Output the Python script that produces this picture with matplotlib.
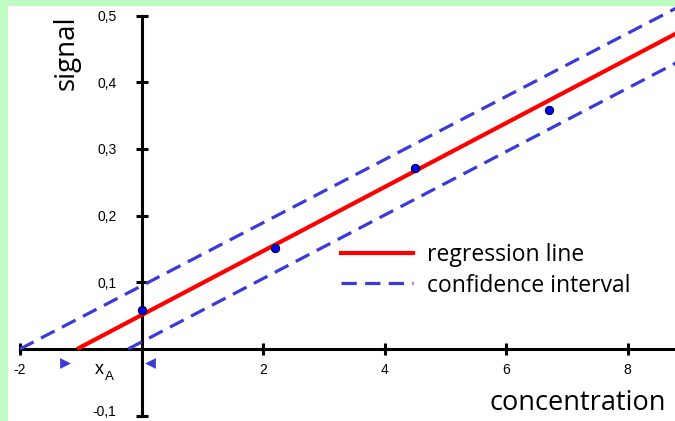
import matplotlib
matplotlib.use("Agg")
import matplotlib.pyplot as plt
from matplotlib.patches import Rectangle
from matplotlib.lines import Line2D
from matplotlib.transforms import ScaledTranslation

# ---- data ----
points_x = [0.0, 2.2, 4.5, 6.7]
points_y = [0.058, 0.151, 0.272, 0.358]

reg_x = [-1.06, 8.8]
reg_y = [0.0, 0.473]
upper_x = [-2.0, 8.8]
upper_y = [0.0, 0.511]
lower_x = [-0.22, 8.8]
lower_y = [0.0, 0.429]

xticks = [-2, 2, 4, 6, 8]
xtick_labels = ["-2", "2", "4", "6", "8"]
yticks = [-0.1, 0.1, 0.2, 0.3, 0.4, 0.5]
ytick_labels = ["-0,1", "0,1", "0,2", "0,3", "0,4", "0,5"]

xA_left = -1.26
xA_right = 0.14
marker_y = -0.021

W, H = 675, 421
fig = plt.figure(figsize=(W / 100, H / 100), dpi=100)
fig.patch.set_facecolor("white")

green = "#bffcc4"
fig.patches.append(Rectangle((0, 0), 8 / W, 1, transform=fig.transFigure,
                             facecolor=green, edgecolor="none", zorder=0))
fig.patches.append(Rectangle((0, 1 - 6 / H), 1, 6 / H, transform=fig.transFigure,
                             facecolor=green, edgecolor="none", zorder=0))

# axes in pixel geometry
ax_left_px, ax_right_px, ax_top_px, ax_bot_px = 10, 675, 6, 421
ax = fig.add_axes([ax_left_px / W, (H - ax_bot_px) / H,
                   (ax_right_px - ax_left_px) / W, (ax_bot_px - ax_top_px) / H])
ax.set_facecolor("none")

x0_px, xscale = 141.5, 60.75
y0_px, yscale = 349, 667
ax.set_xlim((ax_left_px - x0_px) / xscale, (ax_right_px - x0_px) / xscale)
ax.set_ylim((y0_px - ax_bot_px) / yscale, (y0_px - ax_top_px) / yscale)

blue_dash = "#3a3ad8"
dash_pat = (4.8, 2.6)
ax.plot(upper_x, upper_y, color=blue_dash, lw=2.3, dashes=dash_pat, zorder=3)
ax.plot(lower_x, lower_y, color=blue_dash, lw=2.3, dashes=dash_pat, zorder=3)
ax.plot(reg_x, reg_y, color="#ff0000", lw=3.0, zorder=4, solid_capstyle="butt")
ax.scatter(points_x, points_y, s=36, color="#0000ff", edgecolors="black",
           linewidths=0.7, zorder=5)

# xA markers
ax.scatter([xA_left], [marker_y], marker=">", s=60, color=blue_dash, zorder=5,
           linewidths=0)
ax.scatter([xA_right], [marker_y], marker="<", s=60, color=blue_dash, zorder=5,
           linewidths=0)
ax.text(-0.70, -0.031, "x", fontsize=13, family="Liberation Sans",
        ha="center", va="center")
ax.text(-0.53, -0.042, "A", fontsize=9.5, family="Liberation Sans",
        ha="center", va="center")

# spines
for s in ["top", "right"]:
    ax.spines[s].set_visible(False)
ax.spines["left"].set_position(("data", 0))
ax.spines["bottom"].set_position(("data", 0))
ax.spines["left"].set_bounds(-0.1, 0.5)
ax.spines["bottom"].set_bounds(-2, ax.get_xlim()[1])
for s in ["left", "bottom"]:
    ax.spines[s].set_linewidth(2.2)
    ax.spines[s].set_zorder(2)

ax.set_xticks(xticks)
ax.set_xticklabels(xtick_labels, family="Liberation Sans", fontsize=10)
ax.set_yticks(yticks)
ax.set_yticklabels(ytick_labels, family="Liberation Sans", fontsize=10)
ax.tick_params(axis="both", direction="inout", length=8, width=2.2, color="black")
ax.tick_params(axis="x", pad=6)
ax.tick_params(axis="y", pad=14)

# lift the bottom tick label a little so it stays inside the image
lowest = ax.get_yticklabels()[0]
lowest.set_transform(lowest.get_transform() +
                     ScaledTranslation(0, 5 / 100, fig.dpi_scale_trans))

# labels
fig.text(67 / W, 1 - 53 / H, "signal", rotation=90, fontsize=20,
         family="Open Sans", ha="center", va="center")
fig.text(578 / W, 1 - 403 / H, "concentration", fontsize=19.5,
         family="Open Sans", ha="center", va="center")

# legend
handles = [Line2D([], [], color="#ff0000", lw=3.0),
           Line2D([], [], color=blue_dash, lw=2.3, dashes=dash_pat)]
leg = fig.legend(handles, ["regression line", "confidence interval"],
                 loc="upper left", bbox_to_anchor=(320 / W, 1 - 222 / H),
                 frameon=False, prop={"family": "Open Sans", "size": 16.5},
                 handlelength=3.15, handletextpad=0.6, labelspacing=0.3)

fig.savefig("out.png", dpi=100)
